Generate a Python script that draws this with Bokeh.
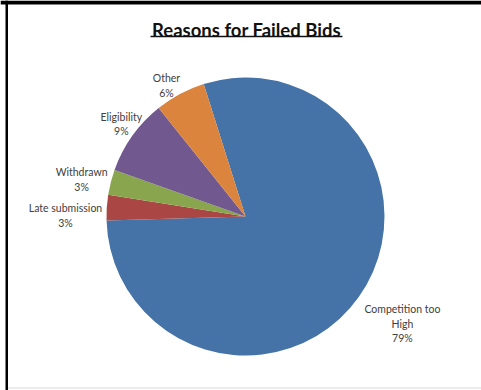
import numpy as np
from bokeh.plotting import figure
from bokeh.models import Range1d, BoxAnnotation, ColumnDataSource
from bokeh.core.properties import value
from bokeh.embed import file_html
from bokeh.resources import INLINE

# ---- data ----
categories = ["Competition too High", "Late submission", "Withdrawn", "Eligibility", "Other"]
counts = [27, 1, 1, 3, 2]
label_names = ["Competition too\nHigh", "Late submission", "Withdrawn", "Eligibility", "Other"]
colors = ["#4572A7", "#AA4643", "#89A54E", "#71588F", "#DB843D"]
title_text = "Reasons for Failed Bids"

# ---- layout / style ----
W, H = 481, 390
CX, CY, R = 245, 174, 139
START_DEG = 107.5
label_radius = [190, 180, 168, 155, 153]
label_angle_nudge = [1.1, 3.4, 1.6, -1.3, 3.0]   # degrees
FONT = "Lato"

p = figure(width=W, height=H, x_range=Range1d(0, W), y_range=Range1d(0, H),
           output_backend="svg", toolbar_location=None, min_border=0)
p.axis.visible = False
p.grid.visible = False
p.outline_line_color = None
p.background_fill_color = "white"
p.border_fill_color = "white"

vals = np.array(counts, dtype=float)
frac = vals / vals.sum()
cum = np.concatenate([[0.0], np.cumsum(frac)])
start = np.radians(START_DEG - 360 * cum[:-1])
end = np.radians(START_DEG - 360 * cum[1:])
mid = (start + end) / 2 + np.radians(label_angle_nudge)
pct = [f"{int(round(f * 100))}%" for f in frac]
texts = [f"{n}\n{q}" for n, q in zip(label_names, pct)]
lx = CX + np.array(label_radius) * np.cos(mid)
ly = CY + np.array(label_radius) * np.sin(mid)

src = ColumnDataSource(dict(cat=categories, start=start, end=end, color=colors,
                            lx=lx, ly=ly, txt=texts))

p.wedge(x=CX, y=CY, radius=R, start_angle="start", end_angle="end",
        direction="clock", fill_color="color", line_color=None, source=src)

p.text(x="lx", y="ly", text="txt", source=src, text_align="center",
       text_baseline="middle", text_font=value(FONT), text_font_size="10.5px",
       text_color="#404040", text_line_height=1.2)

# title with underline
p.text(x=[246], y=[H - 29], text=[title_text], text_align="center",
       text_baseline="middle", text_font=value(FONT), text_font_size="18.5px",
       text_font_style="bold", text_color="#111111")
p.line(x=[150, 342], y=[H - 36, H - 36], line_color="#111111", line_width=1.3)

# frame borders
p.add_layout(BoxAnnotation(left=0, right=W, bottom=H - 4, top=H, fill_color="black",
                           fill_alpha=1, line_color=None))
p.add_layout(BoxAnnotation(left=5, right=7.5, bottom=0, top=H, fill_color="black",
                           fill_alpha=1, line_color=None))
p.add_layout(BoxAnnotation(left=7.5, right=W, bottom=2, top=3, fill_color="#d9d9d9",
                           fill_alpha=1, line_color=None))

open("out.html", "w").write(file_html(p, INLINE))
